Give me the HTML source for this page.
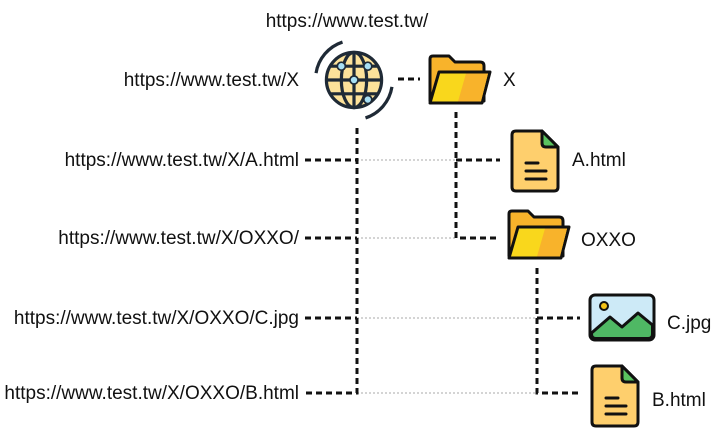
<!DOCTYPE html>
<html><head><style>body{margin:0;background:#fff}svg{display:block}text{font-family:"Liberation Sans",sans-serif;font-size:19px;fill:#111}</style></head>
<body>
<svg width="711" height="434" viewBox="0 0 711 434">
<g stroke="#aaa" stroke-width="1" stroke-dasharray="2,2" fill="none">
<line x1="357" y1="160" x2="456" y2="160"/>
<line x1="357" y1="238" x2="456" y2="238"/>
<line x1="357" y1="318" x2="537" y2="318"/>
<line x1="357" y1="393" x2="537" y2="393"/>
</g>
<g stroke="#111" stroke-width="3" stroke-dasharray="6,4" fill="none">
<line x1="398" y1="79" x2="420" y2="79"/>
<polyline points="357,128 357,393 302,393"/>
<line x1="305" y1="160" x2="357" y2="160"/>
<line x1="305" y1="238" x2="357" y2="238"/>
<line x1="305" y1="318" x2="357" y2="318"/>
<polyline points="456,112 456,238 500,238"/>
<line x1="456" y1="160" x2="500" y2="160"/>
<polyline points="537,268 537,393 580,393"/>
<line x1="537" y1="318" x2="580" y2="318"/>
</g>
<!-- globe -->
<g transform="translate(354,80) scale(1.15)" stroke="#1f2a36" stroke-width="2.8" fill="none">
<circle r="24" fill="#fde29a"/>
<ellipse rx="11" ry="24"/>
<line x1="0" y1="-24" x2="0" y2="24"/>
<line x1="-24" y1="0" x2="24" y2="0"/>
<line x1="-20" y1="-12" x2="20" y2="-12"/>
<line x1="-20" y1="12" x2="20" y2="12"/>
<path d="M-10,-33 A34,34 0 0 0 -33,-6"/>
<path d="M10,33 A34,34 0 0 0 33,6"/>
<circle cx="-11" cy="-12" r="3.5" fill="#a8e0f5" stroke-width="1.5"/>
<circle cx="12" cy="-12" r="3.5" fill="#a8e0f5" stroke-width="1.5"/>
<circle cx="0" cy="0" r="3.5" fill="#a8e0f5" stroke-width="1.5"/>
<circle cx="12" cy="17" r="3.5" fill="#a8e0f5" stroke-width="1.5"/>
</g>
<!-- folders -->
<g transform="translate(428,55)" stroke="#111" stroke-width="3" stroke-linejoin="round">
<path d="M2,4 Q2,1 5,1 H21 L27,7 H52 Q56,7 56,11 V46 H2 Z" fill="#f8b32b"/>
<path d="M11,17 H62 L54,48 H2 Z" fill="#f9d71c"/>
<path d="M38,18.5 H60 L53,46.5 H30 Z" fill="#f8b32b" stroke="none"/>
</g>
<g transform="translate(507,210)" stroke="#111" stroke-width="3" stroke-linejoin="round">
<path d="M2,4 Q2,1 5,1 H21 L27,7 H52 Q56,7 56,11 V46 H2 Z" fill="#f8b32b"/>
<path d="M11,17 H62 L54,48 H2 Z" fill="#f9d71c"/>
<path d="M38,18.5 H60 L53,46.5 H30 Z" fill="#f8b32b" stroke="none"/>
</g>
<!-- files -->
<g transform="translate(512,131)" stroke="#111" stroke-width="3" stroke-linejoin="round" stroke-linecap="round">
<path d="M4,0 H30 L46,16 V56 Q46,60 42,60 H4 Q0,60 0,56 V4 Q0,0 4,0 Z" fill="#fecf6d"/>
<path d="M30,0 V12 Q30,16 34,16 H46 Z" fill="#5ac35f"/>
<line x1="14" y1="32" x2="26" y2="32"/><line x1="14" y1="40" x2="34" y2="40"/><line x1="14" y1="48" x2="34" y2="48"/>
</g>
<g transform="translate(592,366)" stroke="#111" stroke-width="3" stroke-linejoin="round" stroke-linecap="round">
<path d="M4,0 H30 L46,16 V56 Q46,60 42,60 H4 Q0,60 0,56 V4 Q0,0 4,0 Z" fill="#fecf6d"/>
<path d="M30,0 V12 Q30,16 34,16 H46 Z" fill="#5ac35f"/>
<line x1="14" y1="32" x2="26" y2="32"/><line x1="14" y1="40" x2="34" y2="40"/><line x1="14" y1="48" x2="34" y2="48"/>
</g>
<!-- image -->
<g transform="translate(590,295)" stroke="#111" stroke-width="3" stroke-linejoin="round">
<rect x="0" y="0" width="64" height="45" rx="5" fill="#cdeaf7"/>
<path d="M1.5,38 L20,22 L32,32 L48,18 L62.5,30 V39 Q62.5,43.5 58,43.5 H6 Q1.5,43.5 1.5,39 Z" fill="#4fb864"/>
<circle cx="14" cy="11" r="4" fill="#f3c318" stroke-width="2"/>
</g>
<text x="347" y="27" text-anchor="middle">https://www.test.tw/</text>
<text x="299" y="86" text-anchor="end">https://www.test.tw/X</text>
<text x="299" y="166" text-anchor="end">https://www.test.tw/X/A.html</text>
<text x="299" y="244" text-anchor="end">https://www.test.tw/X/OXXO/</text>
<text x="299" y="324" text-anchor="end">https://www.test.tw/X/OXXO/C.jpg</text>
<text x="299" y="399" text-anchor="end">https://www.test.tw/X/OXXO/B.html</text>
<text x="503" y="86">X</text>
<text x="572" y="166">A.html</text>
<text x="581" y="246">OXXO</text>
<text x="667" y="329">C.jpg</text>
<text x="652" y="406">B.html</text>
</svg>
</body></html>
